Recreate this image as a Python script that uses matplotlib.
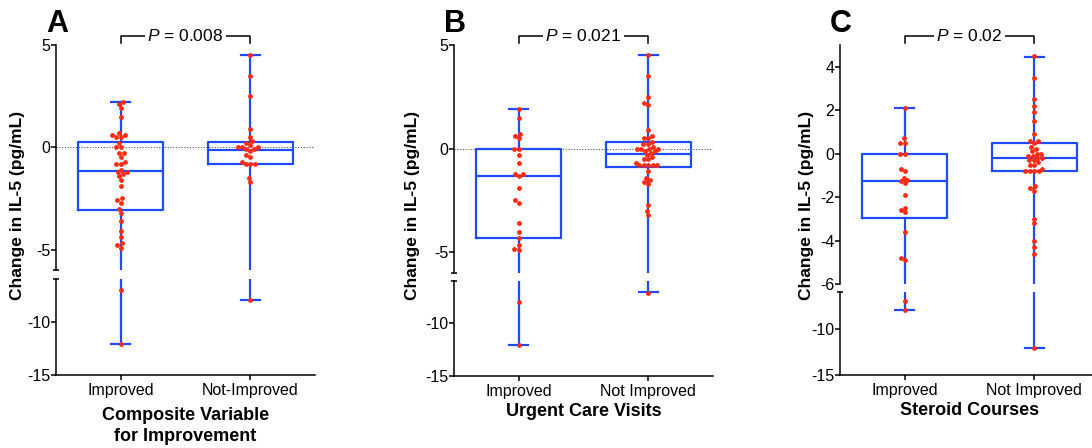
import numpy as np
import matplotlib
matplotlib.use("Agg")
from matplotlib import pyplot as plt

plt.rcParams['font.family'] = ['Liberation Sans', 'DejaVu Sans']
plt.rcParams['axes.unicode_minus'] = False
plt.rcParams['mathtext.fontset'] = 'custom'
plt.rcParams['mathtext.it'] = 'Liberation Sans:italic'
plt.rcParams['mathtext.rm'] = 'Liberation Sans'

# ---- data ----
a_groups = ["Improved", "Not-Improved"]
a_improved = [2.2, 2.1, 1.9, 1.5, 0.7, 0.6, 0.5, 0.5, 0.6, 0.2, 0.0, 0.0, -0.3, -0.3, -0.5,
              -0.7, -0.8, -0.8, -1.1, -1.2, -1.2, -1.3, -1.4, -1.6, -1.9, -2.5, -2.6, -2.7,
              -3.0, -3.2, -3.6, -4.1, -4.4, -4.7, -4.8, -4.9, -7.0, -12.1]
a_not = [4.5, 3.5, 2.5, 0.9, 0.5, 0.3, 0.2, 0.1, 0.0, 0.0, 0.0, -0.1, -0.1, -0.2, -0.4,
         -0.5, -0.7, -0.8, -0.8, -0.8, -1.5, -1.7, -8.0]
a_q1 = [-3.09, -0.82]
a_med = [-1.18, -0.11]
a_q3 = [0.25, 0.26]
a_lo = [-12.1, -8.0]
a_hi = [2.2, 4.5]

b_groups = ["Improved", "Not Improved"]
b_improved = [1.9, 1.5, 0.7, 0.6, 0.5, 0.0, 0.0, -0.3, -0.7, -1.2, -1.2, -1.3, -1.9, -2.5,
              -2.6, -3.6, -4.0, -4.3, -4.65, -4.85, -4.9, -8.0, -12.1]
b_not = [4.5, 3.5, 2.5, 2.2, 2.1, 0.9, 0.6, 0.5, 0.5, 0.3, 0.2, 0.2, 0.1, 0.0, 0.0, 0.0,
         0.0, -0.1, -0.1, -0.2, -0.3, -0.4, -0.5, -0.5, -0.7, -0.8, -0.8, -0.8, -0.8, -0.8,
         -1.1, -1.4, -1.5, -1.6, -1.7, -2.7, -3.0, -3.2, -7.1]
b_q1 = [-4.32, -0.87]
b_med = [-1.31, -0.26]
b_q3 = [0.0, 0.34]
b_lo = [-12.1, -7.08]
b_hi = [1.92, 4.52]

c_groups = ["Improved", "Not Improved"]
c_improved = [2.1, 0.7, 0.5, 0.5, 0.0, 0.0, -0.7, -0.8, -1.1, -1.2, -1.27, -1.36, -1.9,
              -2.5, -2.6, -2.7, -3.6, -4.8, -4.9, -7.0, -7.9]
c_not = [4.5, 3.5, 2.5, 2.2, 1.9, 1.5, 0.9, 0.6, 0.6, 0.5, 0.3, 0.2, 0.1, 0.0, 0.0, -0.1,
         -0.1, -0.2, -0.2, -0.3, -0.3, -0.4, -0.5, -0.5, -0.7, -0.8, -0.8, -0.8, -0.8,
         -1.5, -1.6, -1.7, -3.0, -3.2, -4.0, -4.3, -4.6, -12.1]
c_q1 = [-2.94, -0.81]
c_med = [-1.25, -0.21]
c_q3 = [0.0, 0.47]
c_lo = [-7.93, -12.1]
c_hi = [2.08, 4.47]

BLUE = '#1f4bff'
RED = '#ff2a12'
W, H = 1092, 448

fig = plt.figure(figsize=(W / 100, H / 100), dpi=100)


def swarm(ypix, d):
    # beeswarm offsets in pixels, placing each point as near the centre as it fits
    order = np.argsort(ypix)
    xs = np.zeros(len(ypix))
    placed = []
    for i in order:
        y = ypix[i]
        neigh = [(px, py) for px, py in placed if abs(py - y) < d]
        cands = [0.0]
        for px, py in neigh:
            dx = np.sqrt(d ** 2 - (py - y) ** 2)
            cands += [px - dx, px + dx]
        cands.sort(key=lambda c: (abs(c), c))
        for c in cands:
            if all((c - px) ** 2 + (y - py) ** 2 >= d ** 2 - 1e-6 for px, py in neigh):
                xs[i] = c
                break
        placed.append((xs[i], y))
    return xs


def panel(left, up_px, lo_px, groups, improved, notimp, q1, med, q3, lo, hi,
          up_ticks, letter, ptext, xlabel, ylab_x, zero_line, xpad):
    w = 259
    ax_up = fig.add_axes([left / W, (H - up_px[1]) / H, w / W, (up_px[1] - up_px[0]) / H])
    ax_lo = fig.add_axes([left / W, (H - lo_px[1]) / H, w / W, (lo_px[1] - lo_px[0]) / H])
    ax_up.set_ylim(-6, 5)
    ax_lo.set_ylim(-15, -6)
    stats = [dict(med=med[i], q1=q1[i], q3=q3[i], whislo=lo[i], whishi=hi[i], fliers=[])
             for i in range(2)]
    for ax in (ax_up, ax_lo):
        ax.set_xlim(-0.5, 1.5)
        ax.bxp(stats, positions=[0, 1], widths=0.66, showfliers=False, capwidths=0.15,
               boxprops=dict(color=BLUE, linewidth=1.6),
               medianprops=dict(color=BLUE, linewidth=1.6),
               whiskerprops=dict(color=BLUE, linewidth=1.6),
               capprops=dict(color=BLUE, linewidth=1.6))
        for s in ('top', 'right'):
            ax.spines[s].set_visible(False)
        ax.spines['left'].set_linewidth(1.1)
        ax.spines['bottom'].set_linewidth(1.1)
        ax.tick_params(axis='y', direction='out', length=3.5, width=1.1, labelsize=11.5, pad=0.5)
        ax.tick_params(axis='x', direction='out', length=3.5, width=1.1, labelsize=11.5, pad=2)
        if zero_line:
            ax.axhline(0, color='#555555', linestyle=(0, (1, 1.5)), linewidth=0.8, zorder=0)
    ax_up.spines['bottom'].set_visible(False)
    ax_up.set_xticks([])
    ax_up.set_yticks(up_ticks)
    ax_lo.set_yticks([-10, -15])
    ax_lo.set_xticks([0, 1])
    ax_lo.set_xticklabels(groups)
    ax_lo.set_xlabel(xlabel, fontsize=13, fontweight='bold', labelpad=xpad, linespacing=1.25)
    # break end caps
    if -6 not in up_ticks:
        ax_up.set_yticks([-6], minor=True)
    ax_lo.set_yticks([-6], minor=True)
    for ax in (ax_up, ax_lo):
        ax.tick_params(axis='y', which='minor', direction='inout', length=4, width=1.1)

    # swarm points
    ppu = ax_lo.transData.transform((1, 0))[0] - ax_lo.transData.transform((0, 0))[0]
    for pos, vals in ((0, improved), (1, notimp)):
        vals = np.array(vals)
        ypix = np.array([(ax_up if v >= -6 else ax_lo).transData.transform((0, v))[1]
                         for v in vals])
        xs = pos + swarm(ypix, 4.4) / ppu
        for ax in (ax_up, ax_lo):
            ax.scatter(xs, vals, s=12, color=RED, linewidths=0, zorder=5)

    # significance bracket
    hpx = up_px[1] - up_px[0]
    y1 = 1 + 9 / hpx
    y0 = 1 + 2 / hpx
    tr = ax_up.get_xaxis_transform()
    ax_up.plot([0, 0, 1, 1], [y0, y1, y1, y0], color='black', linewidth=1.1,
               transform=tr, clip_on=False)
    ax_up.text(0.5, y1, ptext, transform=tr, ha='center', va='center', fontsize=12.5,
               bbox=dict(facecolor='white', edgecolor='none', pad=1.5))
    fig.text((left - 10) / W, (H - 32) / H, letter, fontsize=22, fontweight='bold',
             ha='left', va='baseline')
    fig.text(ylab_x / W, (H - 205) / H, "Change in IL-5 (pg/mL)", rotation=90,
             fontsize=12.5, fontweight='bold', ha='center', va='center')


panel(56, (45, 270), (279, 375), a_groups, a_improved, a_not, a_q1, a_med, a_q3, a_lo, a_hi,
      [5, 0, -5], "A", r"$\it{P}$ = 0.008", "Composite Variable\nfor Improvement", 18, True, 7)
panel(454, (45, 273), (281, 376), b_groups, b_improved, b_not, b_q1, b_med, b_q3, b_lo, b_hi,
      [5, 0, -5], "B", r"$\it{P}$ = 0.021", "Urgent Care Visits", 413, True, 3)
panel(840, (45, 284), (292, 375), c_groups, c_improved, c_not, c_q1, c_med, c_q3, c_lo, c_hi,
      [4, 2, 0, -2, -4, -6], "C", r"$\it{P}$ = 0.02", "Steroid Courses", 807, False, 3)

fig.savefig("out.png", dpi=100)
